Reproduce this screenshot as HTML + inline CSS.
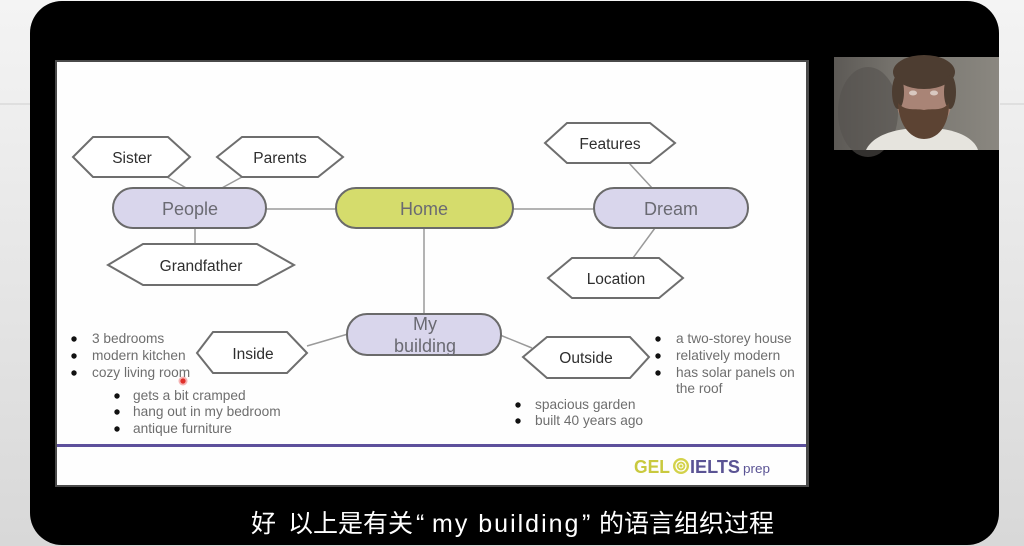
<!DOCTYPE html>
<html>
<head>
<meta charset="utf-8">
<style>
  html, body { margin:0; padding:0; width:1024px; height:546px; overflow:hidden; background:#e6e6e6; }
  svg { display:block; }
  .hex { fill:#ffffff; stroke:#6e6e6e; stroke-width:2; }
  .pill { stroke:#6a6a6a; stroke-width:2; }
  .conn { stroke:#9a9a9a; stroke-width:1.5; fill:none; }
  .hl { font-family:"Liberation Sans", sans-serif; font-size:15.5px; fill:#2e2e2e; text-anchor:middle; }
  .pl { font-family:"Liberation Sans", sans-serif; font-size:18px; fill:#6a6a72; text-anchor:middle; }
  .bt { font-family:"Liberation Sans", sans-serif; font-size:13.7px; fill:#6e6e6e; }
  .bd { fill:#111; }
  .sub { font-family:"Liberation Sans", "Noto Sans CJK SC", sans-serif; font-size:25px; fill:#ffffff; }
</style>
</head>
<body>
<svg width="1024" height="546" viewBox="0 0 1024 546" xmlns="http://www.w3.org/2000/svg">
  <defs>
    <linearGradient id="bgL" x1="0" y1="0" x2="0" y2="1">
      <stop offset="0" stop-color="#f4f4f4"/>
      <stop offset="1" stop-color="#d8d8d8"/>
    </linearGradient>
    <linearGradient id="cam" x1="0" y1="0" x2="1" y2="0">
      <stop offset="0" stop-color="#5c5955"/>
      <stop offset="0.35" stop-color="#75726c"/>
      <stop offset="1" stop-color="#8a8780"/>
    </linearGradient>
  </defs>

  <!-- outer background -->
  <rect x="0" y="0" width="1024" height="546" fill="url(#bgL)"/>
  <line x1="0" y1="104" x2="30" y2="104" stroke="#cfcfcf" stroke-width="1"/>
  <line x1="1000" y1="104" x2="1024" y2="104" stroke="#cfcfcf" stroke-width="1"/>

  <!-- black device frame -->
  <rect x="30" y="1" width="969" height="544" rx="32" ry="32" fill="#000"/>

  <!-- slide -->
  <rect x="55" y="60" width="754" height="427" fill="#4a4a4a"/>
  <rect x="57" y="62" width="749" height="423" fill="#fefefe"/>

  <!-- purple footer line -->
  <rect x="57" y="444" width="749" height="3" fill="#5d509c"/>

  <!-- logo -->
  <text x="634" y="473" font-family="Liberation Sans, sans-serif" font-size="18" font-weight="bold" fill="#c9c93e" textLength="36" lengthAdjust="spacingAndGlyphs">GEL</text>
  <circle cx="681" cy="466" r="8" fill="#d3d24a"/>
  <circle cx="681" cy="466" r="5" fill="none" stroke="#fff" stroke-width="1.3"/>
  <circle cx="681" cy="466" r="2" fill="none" stroke="#fff" stroke-width="1"/>
  <text x="690" y="473" font-family="Liberation Sans, sans-serif" font-size="18" font-weight="bold" fill="#5a5394" textLength="50" lengthAdjust="spacingAndGlyphs">IELTS</text>
  <text x="743" y="473" font-family="Liberation Sans, sans-serif" font-size="13" fill="#5a5394" textLength="27" lengthAdjust="spacingAndGlyphs">prep</text>

  <!-- connectors -->
  <line class="conn" x1="167" y1="177" x2="188" y2="189"/>
  <line class="conn" x1="242" y1="177" x2="220" y2="189"/>
  <line class="conn" x1="195" y1="228" x2="195" y2="244"/>
  <line class="conn" x1="266" y1="209" x2="336" y2="209"/>
  <line class="conn" x1="513" y1="209" x2="594" y2="209"/>
  <line class="conn" x1="424" y1="228" x2="424" y2="314"/>
  <line class="conn" x1="629" y1="163" x2="653" y2="189"/>
  <line class="conn" x1="655" y1="228" x2="633" y2="258"/>
  <line class="conn" x1="307" y1="346" x2="348" y2="334"/>
  <line class="conn" x1="500" y1="335" x2="532" y2="348"/>

  <!-- hexagons -->
  <polygon class="hex" points="73,157 93,137 168,137 190,157 168,177 93,177"/>
  <text class="hl" x="132" y="163">Sister</text>

  <polygon class="hex" points="217,157 242,137 318,137 343,157 318,177 242,177"/>
  <text class="hl" x="280" y="163">Parents</text>

  <polygon class="hex" points="108,265 143,244 257,244 294,265 257,285 143,285"/>
  <text class="hl" x="201" y="271">Grandfather</text>

  <polygon class="hex" points="545,143 567,123 650,123 675,143 650,163 567,163"/>
  <text class="hl" x="610" y="149">Features</text>

  <polygon class="hex" points="548,278 572,258 659,258 683,278 659,298 572,298"/>
  <text class="hl" x="616" y="284">Location</text>

  <polygon class="hex" points="197,353 213,332 287,332 307,353 287,373 213,373"/>
  <text class="hl" x="253" y="359">Inside</text>

  <polygon class="hex" points="523,357 547,337 630,337 649,357 630,378 547,378"/>
  <text class="hl" x="586" y="363">Outside</text>

  <!-- pills -->
  <rect class="pill" x="113" y="188" width="153" height="40" rx="20" ry="20" fill="#d9d6ec"/>
  <text class="pl" x="190" y="215">People</text>

  <rect class="pill" x="336" y="188" width="177" height="40" rx="20" ry="20" fill="#d5dc6c"/>
  <text class="pl" x="424" y="215">Home</text>

  <rect class="pill" x="594" y="188" width="154" height="40" rx="20" ry="20" fill="#d9d6ec"/>
  <text class="pl" x="671" y="215">Dream</text>

  <rect class="pill" x="347" y="314" width="154" height="41" rx="20" ry="20" fill="#d9d6ec"/>
  <text class="pl" x="425" y="330">My</text>
  <text class="pl" x="425" y="352" font-size="18.5">building</text>

  <!-- left bullet list -->
  <circle class="bd" cx="74" cy="339" r="2.7"/>
  <text class="bt" x="92" y="343">3 bedrooms</text>
  <circle class="bd" cx="74" cy="356" r="2.7"/>
  <text class="bt" x="92" y="360">modern kitchen</text>
  <circle class="bd" cx="74" cy="373" r="2.7"/>
  <text class="bt" x="92" y="377">cozy living room</text>

  <circle class="bd" cx="117" cy="396" r="2.7"/>
  <text class="bt" x="133" y="400">gets a bit cramped</text>
  <circle class="bd" cx="117" cy="412" r="2.7"/>
  <text class="bt" x="133" y="416">hang out in my bedroom</text>
  <circle class="bd" cx="117" cy="429" r="2.7"/>
  <text class="bt" x="133" y="433">antique furniture</text>

  <!-- cursor dot -->
  <circle cx="183" cy="381" r="4.5" fill="#f2a0a0" opacity="0.8"/>
  <circle cx="183" cy="381" r="2.6" fill="#e0302a"/>

  <!-- right bullet list -->
  <circle class="bd" cx="658" cy="339" r="2.7"/>
  <text class="bt" x="676" y="343">a two-storey house</text>
  <circle class="bd" cx="658" cy="356" r="2.7"/>
  <text class="bt" x="676" y="360">relatively modern</text>
  <circle class="bd" cx="658" cy="373" r="2.7"/>
  <text class="bt" x="676" y="377">has solar panels on</text>
  <text class="bt" x="676" y="393">the roof</text>

  <!-- bottom bullet list -->
  <circle class="bd" cx="518" cy="405" r="2.7"/>
  <text class="bt" x="535" y="409">spacious garden</text>
  <circle class="bd" cx="518" cy="421" r="2.7"/>
  <text class="bt" x="535" y="425">built 40 years ago</text>

  <!-- webcam -->
  <rect x="834" y="57" width="165" height="93" fill="url(#cam)"/>
  <ellipse cx="868" cy="112" rx="30" ry="45" fill="#55524e" opacity="0.6"/>
  <path d="M866,150 C872,137 890,131 905,129 L942,129 C958,131 974,138 978,150 Z" fill="#e6e4de"/>
  <ellipse cx="924" cy="97" rx="28" ry="37" fill="#a98476"/>
  <ellipse cx="924" cy="72" rx="31" ry="17" fill="#4d3d31"/>
  <ellipse cx="898" cy="92" rx="6" ry="17" fill="#4d3d31"/>
  <ellipse cx="950" cy="92" rx="6" ry="17" fill="#4d3d31"/>
  <path d="M898,103 C899,126 911,139 924,139 C938,139 949,126 949,103 C942,112 932,108 924,110 C916,108 906,112 898,103 Z" fill="#5c4333"/>
  <ellipse cx="913" cy="93" rx="4" ry="2.5" fill="#d8c8c0"/>
  <ellipse cx="934" cy="93" rx="4" ry="2.5" fill="#d8c8c0"/>

  <!-- subtitle -->
  <text class="sub" x="251" y="532">好</text>
  <text class="sub" x="288" y="532">以上是有关</text>
  <text class="sub" x="416" y="532">“</text>
  <text class="sub" x="432" y="532" letter-spacing="2">my building</text>
  <text class="sub" x="582" y="532">”</text>
  <text class="sub" x="599" y="532">的语言组织过程</text>
</svg>
</body>
</html>
